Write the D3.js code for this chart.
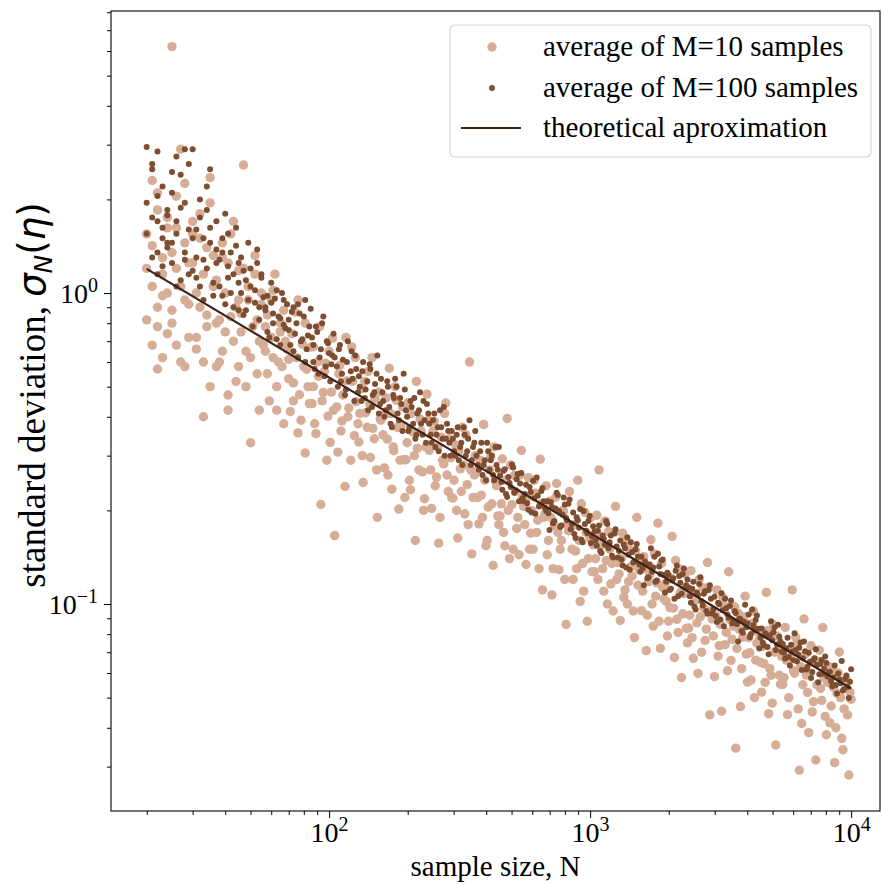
<!DOCTYPE html>
<html>
<head>
<meta charset="utf-8">
<script src="https://cdn.jsdelivr.net/npm/d3@7"></script>
<style>
  body { margin: 0; background: #fff; }
  svg text { font-family: "Liberation Serif", "Times New Roman", serif; }
</style>
</head>
<body>
<svg id="chart" width="882" height="885"></svg>
<script>
// sample sizes N (shared by both series)
var sampleSize = [
  20,20,20,21,21,21,21,22,22,22,22,22,23,23,23,23,24,24,24,24,
  25,25,25,25,26,26,26,26,27,27,27,28,28,28,28,29,29,29,30,30,
  30,31,31,31,32,32,32,33,33,33,34,34,34,35,35,35,36,36,37,37,
  37,38,38,39,39,39,40,40,41,41,41,42,42,43,43,44,44,45,45,45,
  46,46,47,47,48,48,49,49,50,50,51,52,52,53,53,54,54,55,55,56,
  57,57,58,58,59,60,60,61,61,62,63,63,64,65,65,66,67,67,68,69,
  70,70,71,72,73,73,74,75,76,76,77,78,79,80,81,81,82,83,84,85,
  86,87,87,88,89,90,91,92,93,94,95,96,97,98,99,100,101,102,103,104,
  105,107,108,109,110,111,112,113,115,116,117,118,119,121,122,123,125,126,127,129,
  130,131,133,134,135,137,138,140,141,143,144,146,147,149,150,152,153,155,157,158,
  160,161,163,165,167,168,170,172,174,176,177,179,181,183,185,187,189,191,193,195,
  197,199,201,203,205,207,210,212,214,216,218,221,223,225,228,230,232,235,237,240,
  242,245,247,250,253,255,258,261,263,266,269,272,275,277,280,283,286,289,292,295,
  298,301,305,308,311,314,318,321,324,328,331,334,338,341,345,349,352,356,360,363,
  367,371,375,379,383,387,391,395,399,403,407,412,416,420,425,429,434,438,443,447,
  452,457,461,466,471,476,481,486,491,496,502,507,512,517,523,528,534,539,545,551,
  556,562,568,574,580,586,592,598,605,611,617,624,630,637,644,650,657,664,671,678,
  685,692,699,707,714,721,729,737,744,752,760,768,776,784,792,800,809,817,826,834,
  843,852,861,870,879,888,897,907,916,926,936,945,955,965,975,985,996,1006,1017,1027,
  1038,1049,1060,1071,1082,1093,1105,1117,1128,1140,1152,1164,1176,1188,1200,1213,1225,1238,1251,1264,
  1278,1291,1304,1318,1332,1346,1360,1374,1389,1404,1418,1433,1448,1463,1478,1494,1509,1525,1541,1557,
  1573,1590,1606,1623,1640,1657,1674,1692,1709,1727,1745,1763,1782,1801,1819,1838,1858,1877,1897,1917,
  1936,1956,1977,1998,2019,2040,2061,2083,2104,2126,2149,2172,2194,2217,2240,2264,2287,2311,2335,2360,
  2384,2409,2434,2460,2485,2511,2537,2564,2590,2617,2645,2673,2700,2728,2757,2786,2815,2845,2874,2904,
  2935,2966,2996,3027,3059,3091,3123,3156,3189,3222,3256,3290,3324,3359,3394,3430,3465,3501,3538,3575,
  3612,3650,3688,3727,3766,3806,3844,3884,3925,3966,4008,4050,4092,4135,4178,4222,4265,4310,4355,4401,
  4447,4494,4540,4588,4635,4684,4733,4783,4832,4883,4934,4986,5037,5090,5143,5197,5251,5306,5361,5417,
  5474,5531,5589,5648,5706,5766,5826,5887,5948,6011,6073,6137,6201,6266,6331,6397,6464,6532,6599,6668,
  6738,6809,6879,6951,7024,7098,7171,7246,7322,7399,7475,7554,7632,7712,7792,7874,7956,8040,8124,8209,
  8294,8381,8468,8557,8646,8737,8828,8921,9014,9109,9203,9300,9396,9494,9593,9694,9795,9898,10000
];

// standard deviation, average of M=10 samples
var sigmaM10 = [
  1.55,1.2,0.82,0.68,2.3,1.42,1.05,0.9,0.57,2.1,1.85,0.78,0.98,1.15,1.3,0.62,0.74,1.75,1.62,1.0,
  6.2,0.8,0.88,1.35,2.05,1.62,1.2,0.68,0.6,1.05,2.9,2.25,0.95,0.58,1.45,1.25,0.72,0.92,1.7,1.55,
  1.25,1.0,0.66,0.72,1.8,1.5,0.9,0.6,0.4,1.15,1.4,0.85,0.78,1.95,2.35,0.5,1.05,1.32,0.58,0.8,
  1.1,0.82,0.6,1.3,1.45,0.65,0.75,1.0,0.42,0.47,1.25,1.55,0.84,0.7,1.7,0.9,0.52,1.18,0.95,0.58,
  0.86,0.75,2.58,1.2,0.65,0.5,1.05,0.95,0.33,0.62,0.78,1.32,1.15,0.82,0.55,0.42,0.7,1.0,0.92,0.68,
  0.65,0.78,0.85,0.55,0.45,0.95,0.72,0.62,1.02,1.15,0.5,0.42,0.6,0.75,0.8,0.58,0.38,0.88,0.7,0.66,
  0.612,0.53,0.416,0.74,0.514,0.45,0.869,0.62,0.355,0.95,0.471,0.39,0.685,0.58,0.306,0.8,0.569,0.5,0.441,0.67,
  0.441,0.5,0.672,0.38,0.353,0.6,0.54,0.78,0.209,0.45,0.479,0.56,0.595,0.29,0.402,0.65,0.331,0.48,0.716,0.42,
  0.166,0.43,0.308,0.55,0.586,0.36,0.388,0.47,0.239,0.72,0.522,0.4,0.427,0.29,0.671,0.52,0.348,0.62,0.447,0.38,
  0.332,0.41,0.493,0.3,0.246,0.52,0.412,0.37,0.56,0.44,0.296,0.62,0.367,0.34,0.457,0.27,0.19,0.48,0.394,0.39,
  0.404,0.35,0.274,0.46,0.339,0.26,0.573,0.41,0.234,0.32,0.311,0.5,0.452,0.37,0.202,0.29,0.375,0.43,0.291,0.22,
  0.291,0.33,0.444,0.25,0.233,0.41,0.357,0.3,0.16,0.52,0.317,0.27,0.393,0.36,0.266,0.2,0.218,0.32,0.473,0.39,
  0.312,0.27,0.203,0.36,0.387,0.24,0.256,0.32,0.157,0.19,0.344,0.29,0.282,0.41,0.443,0.26,0.23,0.34,0.295,0.22,
  0.219,0.25,0.325,0.2,0.163,0.31,0.272,0.23,0.37,0.28,0.195,0.35,0.242,0.18,0.6,0.27,0.145,0.22,0.26,0.3,
  0.266,0.22,0.181,0.29,0.224,0.19,0.378,0.25,0.154,0.16,0.205,0.27,0.298,0.21,0.133,0.32,0.248,0.24,0.192,0.18,
  0.192,0.21,0.293,0.17,0.154,0.25,0.395,0.2,0.14,0.28,0.209,0.15,0.259,0.23,0.175,0.19,0.144,0.26,0.312,0.22,
  0.206,0.18,0.134,0.22,0.255,0.15,0.169,0.2,0.15,0.25,0.227,0.17,0.186,0.13,0.292,0.21,0.111,0.19,0.195,0.24,
  0.144,0.16,0.214,0.19,0.107,0.13,0.179,0.22,0.244,0.17,0.129,0.15,0.16,0.2,0.199,0.12,0.086,0.18,0.172,0.23,
  0.176,0.15,0.12,0.18,0.148,0.13,0.25,0.16,0.102,0.21,0.135,0.11,0.197,0.17,0.088,0.14,0.163,0.19,0.127,0.155,
  0.127,0.14,0.193,0.12,0.27,0.165,0.155,0.13,0.11,0.185,0.138,0.1,0.171,0.15,0.116,0.135,0.095,0.17,0.206,0.12,
  0.136,0.125,0.0885,0.14,0.169,0.105,0.111,0.16,0.1,0.118,0.15,0.132,0.123,0.095,0.078,0.148,0.19,0.115,0.129,0.138,
  0.0952,0.11,0.142,0.13,0.0708,0.092,0.118,0.124,0.161,0.1,0.0849,0.145,0.106,0.117,0.182,0.088,0.072,0.135,0.113,0.104,
  0.116,0.102,0.0789,0.088,0.0974,0.121,0.165,0.097,0.0673,0.138,0.0893,0.081,0.13,0.109,0.058,0.093,0.108,0.125,0.0835,0.075,
  0.0837,0.092,0.128,0.078,0.0669,0.108,0.103,0.087,0.0598,0.12,0.091,0.07,0.113,0.097,0.0764,0.083,0.136,0.113,0.044,0.095,
  0.0895,0.079,0.0584,0.092,0.111,0.068,0.0735,0.086,0.0452,0.105,0.0989,0.074,0.081,0.061,0.127,0.089,0.0659,0.077,0.0848,0.098,
  0.0344,0.072,0.0935,0.083,0.0468,0.062,0.0782,0.091,0.106,0.069,0.0561,0.078,0.0697,0.057,0.0867,0.095,0.05,0.066,0.0748,0.081,
  0.0766,0.065,0.0521,0.073,0.0643,0.056,0.109,0.082,0.0444,0.062,0.059,0.048,0.0858,0.07,0.0352,0.079,0.0712,0.059,0.0552,0.068,
  0.0551,0.058,0.0841,0.066,0.0441,0.05,0.0675,0.072,0.111,0.061,0.0599,0.078,0.0744,0.046,0.0292,0.063,0.0413,0.055,0.0896,0.069,
  0.0591,0.052,0.0386,0.06,0.0734,0.045,0.0485,0.066,0.0315,0.055,0.0653,0.071,0.0535,0.049,0.084,0.058,0.0435,0.038,0.056,0.063,
  0.0415,0.047,0.0617,0.054,0.0309,0.04,0.0516,0.06,0.0701,0.05,0.037,0.034,0.046,0.057,0.0572,0.044,0.0282,0.052,0.0494
];

// standard deviation, average of M=100 samples
var sigmaM100 = [
  2.95,1.95,1.55,2.6,2.5,1.3,1.75,1.7,1.35,2.85,2.05,1.15,1.62,1.5,1.22,2.2,1.85,1.4,1.45,1.78,
  2.45,1.45,1.25,2.1,2.75,1.05,1.55,1.7,1.1,2.4,1.88,1.28,1.35,1.95,2.9,1.15,1.6,2.6,1.18,1.5,
  2.9,1.6,1.3,1.12,1.75,2.0,1.05,1.28,1.5,0.95,2.2,1.85,1.2,1.45,1.62,2.5,0.98,1.08,1.38,1.25,
  1.7,1.28,1.05,1.5,1.35,0.98,0.92,1.8,1.22,1.12,1.55,1.35,1.0,0.9,1.15,1.62,1.42,1.08,0.88,1.25,
  1.3,1.0,0.85,1.18,1.1,0.88,0.95,1.45,1.2,1.05,0.78,0.93,1.02,1.25,1.38,0.82,0.9,1.15,1.12,0.97,
  0.88,0.9,0.98,0.75,0.72,1.08,0.93,0.86,0.8,0.96,1.02,0.71,0.84,0.83,0.68,1.0,0.95,0.79,0.77,0.92,
  0.82,0.76,0.68,0.87,0.9,0.65,0.74,0.8,0.62,0.92,0.86,0.7,0.71,0.84,0.95,0.6,0.66,0.73,0.78,0.89,
  0.72,0.68,0.6,0.57,0.78,0.75,0.55,0.62,0.66,0.8,0.84,0.54,0.58,0.7,0.69,0.64,0.52,0.59,0.63,0.74,
  0.62,0.58,0.5,0.66,0.68,0.52,0.55,0.61,0.47,0.49,0.6,0.7,0.52,0.56,0.65,0.53,0.45,0.63,0.57,0.48,
  0.54,0.5,0.45,0.56,0.6,0.46,0.49,0.52,0.42,0.59,0.57,0.43,0.47,0.48,0.51,0.55,0.63,0.41,0.44,0.53,
  0.48,0.45,0.4,0.42,0.52,0.5,0.43,0.38,0.37,0.47,0.46,0.53,0.5,0.41,0.39,0.46,0.44,0.36,0.55,0.49,
  0.42,0.4,0.36,0.37,0.45,0.43,0.38,0.46,0.34,0.35,0.41,0.42,0.48,0.38,0.35,0.45,0.39,0.33,0.44,0.41,
  0.38,0.35,0.33,0.39,0.41,0.32,0.35,0.37,0.31,0.42,0.37,0.34,0.43,0.3,0.34,0.38,0.36,0.33,0.3,0.36,
  0.34,0.31,0.3,0.35,0.37,0.29,0.32,0.33,0.28,0.37,0.35,0.3,0.31,0.34,0.39,0.28,0.29,0.32,0.33,0.36,
  0.3,0.28,0.27,0.31,0.33,0.26,0.28,0.29,0.25,0.33,0.31,0.27,0.29,0.3,0.26,0.25,0.32,0.28,0.27,0.32,
  0.259,0.247,0.233,0.268,0.271,0.226,0.221,0.256,0.245,0.238,0.281,0.275,0.228,0.231,0.252,0.262,0.214,0.244,0.264,0.219,
  0.214,0.226,0.242,0.211,0.201,0.238,0.229,0.197,0.249,0.219,0.195,0.255,0.223,0.206,0.208,0.231,0.236,0.214,0.204,0.199,
  0.214,0.196,0.173,0.213,0.205,0.182,0.185,0.203,0.228,0.224,0.199,0.177,0.179,0.194,0.22,0.209,0.189,0.186,0.21,0.217,
  0.174,0.181,0.197,0.168,0.163,0.19,0.186,0.176,0.202,0.161,0.158,0.199,0.181,0.172,0.169,0.185,0.192,0.157,0.165,0.178,
  0.171,0.16,0.154,0.172,0.179,0.148,0.146,0.166,0.162,0.155,0.185,0.181,0.151,0.158,0.166,0.143,0.141,0.169,0.174,0.153,
  0.141,0.148,0.16,0.139,0.133,0.155,0.151,0.131,0.164,0.144,0.129,0.158,0.147,0.136,0.137,0.15,0.156,0.142,0.134,0.127,
  0.142,0.13,0.115,0.137,0.135,0.121,0.122,0.134,0.151,0.127,0.131,0.142,0.118,0.119,0.145,0.132,0.125,0.138,0.139,0.124,
  0.109,0.118,0.126,0.124,0.111,0.112,0.119,0.121,0.104,0.128,0.133,0.106,0.123,0.117,0.108,0.125,0.13,0.113,0.115,0.12,
  0.113,0.106,0.101,0.112,0.118,0.098,0.096,0.109,0.107,0.116,0.122,0.102,0.099,0.108,0.11,0.095,0.093,0.111,0.115,0.104,
  0.0933,0.0962,0.1055,0.0915,0.0876,0.101,0.0999,0.0892,0.1083,0.0955,0.0848,0.104,0.097,0.0925,0.0904,0.0985,0.1027,0.0868,0.0885,0.0948,
  0.0935,0.0862,0.0757,0.0898,0.0893,0.0819,0.0808,0.0877,0.0995,0.0842,0.0867,0.0925,0.0782,0.0801,0.0961,0.0855,0.0825,0.0889,0.0918,0.0833,
  0.072,0.0779,0.0835,0.0751,0.0735,0.0806,0.0789,0.0727,0.0689,0.0794,0.0881,0.0765,0.0812,0.0842,0.0712,0.0741,0.0858,0.0785,0.0758,0.0702,
  0.0744,0.0697,0.0668,0.0721,0.0779,0.0676,0.0634,0.0739,0.0703,0.066,0.0806,0.0712,0.0655,0.0688,0.0723,0.0752,0.0613,0.0669,0.0758,0.0705,
  0.0616,0.0628,0.0697,0.0652,0.0578,0.0605,0.0659,0.0669,0.0715,0.0637,0.056,0.0594,0.0641,0.0661,0.0597,0.0619,0.0678,0.0646,0.0585,0.0603,
  0.0606,0.0565,0.0544,0.0581,0.0634,0.0549,0.0516,0.0598,0.0572,0.0556,0.0656,0.0527,0.0533,0.0574,0.0589,0.0541,0.0499,0.0562,0.0617
];

// theoretical approximation (straight line on log-log axes)
var theoryN = [20, 10000];
var theorySigma = [1.196, 0.0535];

var xMajor = [100, 1000, 10000];
var xExponents = ["2", "3", "4"];
var yMajor = [1, 0.1];
var yExponents = ["0", "\u22121"];

var legendLabels = ["average of M=10 samples", "average of M=100 samples", "theoretical aproximation"];

var colLight = "#d6ad97", colDark = "#7f4d2f", colLine = "#3e2117";

var margin = {left: 111, right: 2, top: 11, bottom: 74};
var W = 882, H = 885;

var svg = d3.select("#chart");

var x = d3.scaleLog().domain([14.6, 12900]).range([margin.left, W - margin.right]);
var y = d3.scaleLog().domain([0.0216, 8.07]).range([H - margin.bottom, margin.top]);

// minor ticks
var xMinor = [], yMinor = [];
[10, 100, 1000].forEach(function(d) {
  for (var k = 2; k <= 9; k++) if (d * k > 14.6 && d * k < 12900) xMinor.push(d * k);
});
[0.01, 0.1, 1].forEach(function(d) {
  for (var k = 2; k <= 9; k++) if (d * k > 0.0216 && d * k < 8.07) yMinor.push(d * k);
});

var nPts = Math.min(sampleSize.length, sigmaM10.length, sigmaM100.length);

// scatter: M=10 underneath
svg.append("g").selectAll("circle")
  .data(d3.range(nPts))
  .enter().append("circle")
    .attr("cx", function(i) { return x(sampleSize[i]); })
    .attr("cy", function(i) { return y(sigmaM10[i]); })
    .attr("r", 4.7)
    .style("fill", colLight);

svg.append("g").selectAll("circle")
  .data(d3.range(nPts))
  .enter().append("circle")
    .attr("cx", function(i) { return x(sampleSize[i]); })
    .attr("cy", function(i) { return y(sigmaM100[i]); })
    .attr("r", 3)
    .style("fill", colDark);

var line = d3.line()
  .x(function(i) { return x(theoryN[i]); })
  .y(function(i) { return y(theorySigma[i]); });

svg.append("path")
  .datum(d3.range(theoryN.length))
  .attr("d", line)
  .style("fill", "none")
  .style("stroke", colLine)
  .style("stroke-width", 2.2);

// axes
var bottom = H - margin.bottom;
var gx = svg.append("g").attr("transform", "translate(0," + bottom + ")");
gx.call(d3.axisBottom(x).tickValues(xMajor).tickSize(7).tickFormat(""));
var gxm = svg.append("g").attr("transform", "translate(0," + bottom + ")");
gxm.call(d3.axisBottom(x).tickValues(xMinor).tickSize(4).tickFormat(""));

var gy = svg.append("g").attr("transform", "translate(" + margin.left + ",0)");
gy.call(d3.axisLeft(y).tickValues(yMajor).tickSize(7).tickFormat(""));
var gym = svg.append("g").attr("transform", "translate(" + margin.left + ",0)");
gym.call(d3.axisLeft(y).tickValues(yMinor).tickSize(4).tickFormat(""));

[gx, gxm, gy, gym].forEach(function(g) {
  g.select(".domain").remove();
  g.selectAll(".tick line").style("stroke", "#000").style("stroke-width", 1);
});

// frame
svg.append("rect")
  .attr("x", margin.left).attr("y", margin.top)
  .attr("width", W - margin.right - margin.left)
  .attr("height", bottom - margin.top)
  .style("fill", "none").style("stroke", "#000").style("stroke-width", 1.1);

// tick labels with superscripts
gx.selectAll(".tick").each(function(d, i) {
  var t = d3.select(this).append("text")
    .attr("y", 31).attr("text-anchor", "middle")
    .style("fill", "#000").style("font-size", "28px");
  t.append("tspan").text("10");
  t.append("tspan").attr("dy", -11).style("font-size", "20px").text(xExponents[i]);
});
gy.selectAll(".tick").each(function(d, i) {
  var t = d3.select(this).append("text")
    .attr("x", -13).attr("y", 9).attr("text-anchor", "end")
    .style("fill", "#000").style("font-size", "28px");
  t.append("tspan").text("10");
  t.append("tspan").attr("dy", -11).style("font-size", "20px").text(yExponents[i]);
});

// axis labels
svg.append("text")
  .attr("x", (margin.left + W - margin.right) / 2).attr("y", 876)
  .attr("text-anchor", "middle").style("font-size", "29px")
  .text("sample size, N");

var yl = svg.append("text")
  .attr("transform", "translate(45,395) rotate(-90)")
  .attr("text-anchor", "middle").style("font-size", "37px");
yl.append("tspan").text("standard deviation, ");
yl.append("tspan").style("font-family", "DejaVu Sans").style("font-style", "italic").text("\u03c3");
yl.append("tspan").attr("dy", 7).style("font-family", "DejaVu Sans").style("font-style", "italic").style("font-size", "25px").text("N");
yl.append("tspan").attr("dy", -7).style("font-family", "DejaVu Sans").text("(");
yl.append("tspan").style("font-family", "DejaVu Sans").style("font-style", "italic").text("\u03b7");
yl.append("tspan").style("font-family", "DejaVu Sans").text(")");

// legend
var lg = svg.append("g");
lg.append("rect")
  .attr("x", 450).attr("y", 25).attr("width", 421).attr("height", 132)
  .attr("rx", 5)
  .style("fill", "#fff").style("fill-opacity", 0.8)
  .style("stroke", "#d5d5d5").style("stroke-width", 1.2);

var rowY = [47, 88, 128];
lg.append("circle").attr("cx", 492).attr("cy", rowY[0]).attr("r", 4.7).style("fill", colLight);
lg.append("circle").attr("cx", 492).attr("cy", rowY[1]).attr("r", 3).style("fill", colDark);
lg.append("line").attr("x1", 461).attr("x2", 521).attr("y1", rowY[2]).attr("y2", rowY[2])
  .style("stroke", colLine).style("stroke-width", 2.2);

lg.selectAll("text.lab").data(legendLabels).enter().append("text")
  .attr("class", "lab")
  .attr("x", 543).attr("y", function(d, i) { return rowY[i] + 9; })
  .style("font-size", "29px")
  .text(function(d) { return d; });
</script>
</body>
</html>
